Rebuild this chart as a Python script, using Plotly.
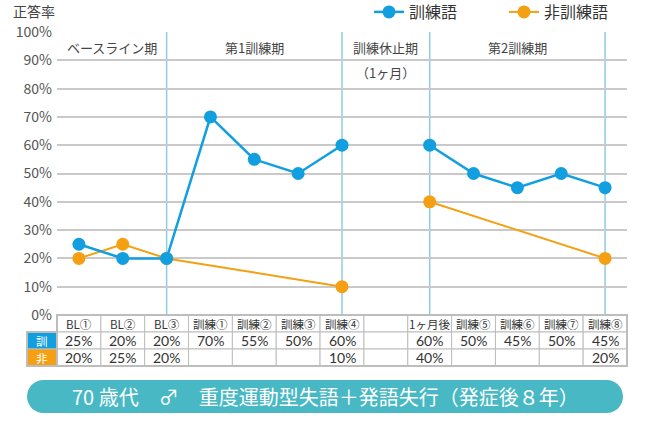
import plotly.graph_objects as go

# ---- data ----
categories = ["BL①", "BL②", "BL③", "訓練①", "訓練②", "訓練③", "訓練④", "",
              "1ヶ月後", "訓練⑤", "訓練⑥", "訓練⑦", "訓練⑧"]
trained = [25, 20, 20, 70, 55, 50, 60, None, 60, 50, 45, 50, 45]
untrained = [20, 25, 20, None, None, None, 10, None, 40, None, None, None, 20]
segment = [0, 0, 0, 0, 0, 0, 0, None, 1, 1, 1, 1, 1]
y_ticks = [0, 10, 20, 30, 40, 50, 60, 70, 80, 90, 100]
y_tick_labels = [f"{v}%" for v in y_ticks]
period_labels = ["ベースライン期", "第1訓練期", "訓練休止期", "第2訓練期"]
period_centers = [0.75, 4, 7, 10]
period_dividers = [2, 6, 8, 12]
series_names = ["訓練語", "非訓練語"]
row_labels = ["訓", "非"]
banner_text = "70 歳代　♂　重度運動型失語＋発語失行（発症後８年）"

BLUE = "#129fdf"
ORANGE = "#f4a012"
TEAL = "#48b9c4"
GRID = "#c9c9c9"
VLINE = "#8fcbe3"
TXT = "#444444"
FONT = "Noto Sans CJK JP"
NUMFONT = "Lato, Noto Sans CJK JP"

W, H = 650, 423
L, R, T, B = 57, 23, 32, 108
PW = W - L - R
PH = H - T - B
n = len(categories)


def px_x(px):
    return (px - L) / PW


def px_y(py):
    return (T + PH - py) / PH


def col_x(edge):
    # category boundary (edge = i - 0.5) to paper
    return (edge + 0.5) / n


def series_xy(vals):
    xs, ys = [], []
    prev = None
    for i, v in enumerate(vals):
        if v is None:
            continue
        if prev is not None and segment[i] != prev:
            xs.append(None)
            ys.append(None)
        xs.append(i)
        ys.append(v)
        prev = segment[i]
    return xs, ys


def ann(x, y, text, size, color=TXT, xref="paper", yref="paper", xanchor="center", family=FONT):
    return dict(x=x, y=y, xref=xref, yref=yref, text=text, showarrow=False,
                xanchor=xanchor, yanchor="middle",
                font=dict(size=size, color=color, family=family))


fig = go.Figure()
ox, oy = series_xy(untrained)
bx, by = series_xy(trained)
fig.add_trace(go.Scatter(x=ox, y=oy, mode="lines+markers", name=series_names[1],
                         line=dict(color=ORANGE, width=2),
                         marker=dict(color=ORANGE, size=13), legendrank=2))
fig.add_trace(go.Scatter(x=bx, y=by, mode="lines+markers", name=series_names[0],
                         line=dict(color=BLUE, width=2.5),
                         marker=dict(color=BLUE, size=13), legendrank=1))

shapes = []
annotations = []

# vertical period dividers
for d in period_dividers:
    shapes.append(dict(type="line", xref="x", yref="paper", x0=d, x1=d, y0=0, y1=1,
                       line=dict(color=VLINE, width=1.5), layer="below"))

for lab, c in zip(period_labels, period_centers):
    annotations.append(ann(c, px_y(47), lab, 13, xref="x"))
annotations.append(ann(7, px_y(72), "（1ヶ月）", 13, xref="x"))

# table
row_tops = [315, 332, 349, 366]
BORDER = "#bdbdbd"
for r in range(3):
    y0 = px_y(row_tops[r + 1])
    y1 = px_y(row_tops[r])
    for i in range(n):
        shapes.append(dict(type="rect", xref="paper", yref="paper",
                           x0=col_x(i - 0.5), x1=col_x(i + 0.5), y0=y0, y1=y1,
                           line=dict(color=BORDER, width=1), fillcolor="white", layer="above"))
    ym = (y0 + y1) / 2
    if r == 0:
        for i, c in enumerate(categories):
            annotations.append(ann(i, ym, c, 11.5, color="#333", xref="x"))
    else:
        vals = trained if r == 1 else untrained
        color = BLUE if r == 1 else ORANGE
        shapes.append(dict(type="rect", xref="paper", yref="paper",
                           x0=px_x(27), x1=px_x(57), y0=y0, y1=y1,
                           line=dict(color=BORDER, width=1), fillcolor=color, layer="above"))
        annotations.append(ann(px_x(42), ym, row_labels[r - 1], 11.5, color="white"))
        for i, v in enumerate(vals):
            if v is None:
                continue
            annotations.append(ann(i, ym, f"{v}%", 14, color="#333", xref="x", family=NUMFONT))
# outer border
shapes.append(dict(type="rect", xref="paper", yref="paper", x0=col_x(-0.5), x1=col_x(n - 0.5),
                   y0=px_y(366), y1=px_y(315), line=dict(color=BORDER, width=2), layer="above"))
shapes.append(dict(type="rect", xref="paper", yref="paper", x0=px_x(27), x1=px_x(57),
                   y0=px_y(366), y1=px_y(332), line=dict(color=BORDER, width=2), layer="above"))

# banner (pill)
bx0, bx1, by0, by1 = 27, 623, 380, 413
rad = (by1 - by0) / 2
shapes.append(dict(type="rect", xref="paper", yref="paper", x0=px_x(bx0 + rad), x1=px_x(bx1 - rad),
                   y0=px_y(by1), y1=px_y(by0), fillcolor=TEAL, line=dict(width=0)))
for cx in (bx0 + rad, bx1 - rad):
    shapes.append(dict(type="circle", xref="paper", yref="paper", x0=px_x(cx - rad), x1=px_x(cx + rad),
                       y0=px_y(by1), y1=px_y(by0), fillcolor=TEAL, line=dict(width=0)))
annotations.append(ann(px_x((bx0 + bx1) / 2), px_y((by0 + by1) / 2), banner_text, 20, color="white"))

# y axis title
annotations.append(ann(px_x(11), px_y(11), "正答率", 14, xanchor="left"))

fig.update_layout(
    width=W, height=H,
    margin=dict(l=L, r=R, t=T, b=B, autoexpand=False),
    paper_bgcolor="white", plot_bgcolor="white",
    font=dict(family=FONT, color=TXT),
    showlegend=True,
    legend=dict(orientation="h", x=px_x(369), y=px_y(12), xanchor="left", yanchor="middle",
                font=dict(size=16, color="#333", family=FONT), itemwidth=30,
                entrywidth=90, entrywidthmode="pixels",
                traceorder="normal", bgcolor="rgba(0,0,0,0)"),
    xaxis=dict(range=[-0.5, n - 0.5], showgrid=False, zeroline=False, showticklabels=False,
               showline=False, fixedrange=True),
    yaxis=dict(range=[0, 100], tickvals=y_ticks, ticktext=y_tick_labels, showgrid=True,
               gridcolor=GRID, gridwidth=1.5, zeroline=False, showline=False,
               tickfont=dict(size=14, color="#555", family=FONT), ticks="", ticklabelstandoff=4,
               fixedrange=True),
    shapes=shapes,
    annotations=annotations,
)

fig.write_html("out.html", config={"displayModeBar": False},
               post_script="document.body.style.margin='0';")
